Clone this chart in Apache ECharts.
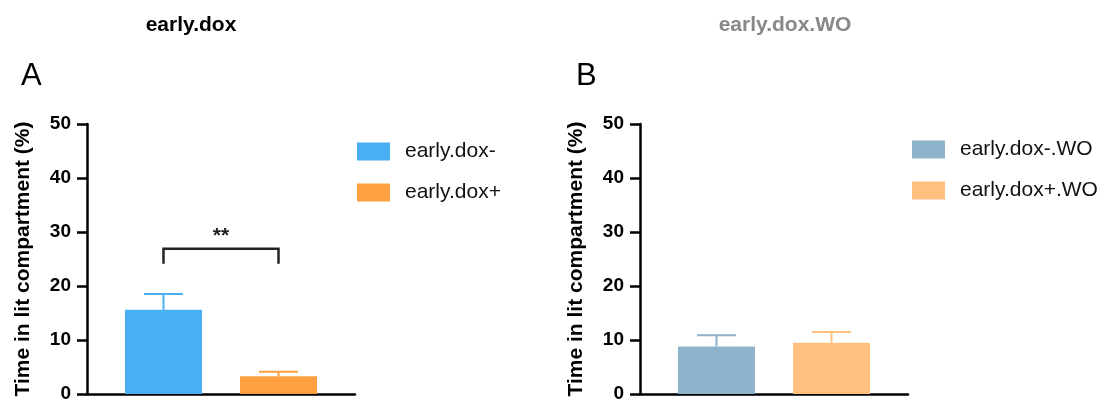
<!DOCTYPE html>
<html>
<head>
<meta charset="utf-8">
<script src="https://cdn.jsdelivr.net/npm/echarts@6/dist/echarts.min.js"></script>
<style>
html,body{margin:0;padding:0;background:#fff;}
#chart{width:1105px;height:404px;}
</style>
</head>
<body>
<div id="chart"></div>
<script>
// ---- data ----
const panelTitles = ['early.dox', 'early.dox.WO'];
const panelLetters = ['A', 'B'];
const groupsA = ['early.dox-', 'early.dox+'];
const meansA = [15.6, 3.3];
const errTopA = [18.5, 4.1];
const groupsB = ['early.dox-.WO', 'early.dox+.WO'];
const meansB = [8.8, 9.5];
const errTopB = [10.9, 11.5];
const colorsA = ['#4aaef3', '#ffa040'];
const colorsB = ['#8eb3cc', '#ffc080'];
// significance bracket in panel A: [fromGroup, toGroup, top value, leg bottom value]
const sigA = [[0, 1, 26.9, 24.1]];
const sigLabelA = ['**'];
const yMin = 0, yMax = 50, yInterval = 10;
const yTitle = 'Time in lit compartment (%)';

const FONT = "'Liberation Sans', Arial, Helvetica, sans-serif";
const chart = echarts.init(document.getElementById('chart'));

function yAxisOpt(gi) {
  return {
    type: 'value', gridIndex: gi, min: yMin, max: yMax, interval: yInterval,
    name: yTitle, nameLocation: 'middle', nameGap: 53,
    nameTextStyle: {fontFamily: FONT, fontWeight: 'bold', fontSize: 21, color: '#000'},
    axisLine: {show: true, onZero: false, lineStyle: {color: '#000', width: 2.5}},
    axisTick: {show: true, inside: false, length: 10, lineStyle: {color: '#000', width: 2.5}},
    axisLabel: {fontFamily: FONT, fontWeight: 'bold', fontSize: 19, color: '#000', margin: 16},
    splitLine: {show: false}
  };
}
function xAxisOpt(gi) {
  return {
    type: 'value', gridIndex: gi, min: 0.335, max: 2.665,
    axisLine: {show: true, onZero: false, lineStyle: {color: '#000', width: 2.5}},
    axisTick: {show: false}, axisLabel: {show: false}, splitLine: {show: false}
  };
}

const series = [];
function addPanel(gi, groups, means, errs, colors) {
  groups.forEach((g, i) => {
    series.push({
      name: g, type: 'bar', xAxisIndex: gi, yAxisIndex: gi,
      barWidth: 77, barGap: '-100%',
      itemStyle: {color: colors[i]},
      data: [[i + 1, means[i]]], z: 2
    });
    series.push({
      type: 'custom', xAxisIndex: gi, yAxisIndex: gi, z: 3, silent: true,
      data: [[i + 1, means[i], errs[i]]],
      renderItem: function (params, api) {
        const p0 = api.coord([api.value(0), api.value(1)]);
        const p1 = api.coord([api.value(0), api.value(2)]);
        const hw = 19.5;
        return {
          type: 'group', children: [
            {type: 'line', shape: {x1: p0[0], y1: p0[1], x2: p1[0], y2: p1[1]}, style: {stroke: colors[i], lineWidth: 2}},
            {type: 'line', shape: {x1: p1[0] - hw, y1: p1[1], x2: p1[0] + hw, y2: p1[1]}, style: {stroke: colors[i], lineWidth: 2}}
          ]
        };
      }
    });
  });
}
addPanel(0, groupsA, meansA, errTopA, colorsA);
addPanel(1, groupsB, meansB, errTopB, colorsB);

series.push({
  type: 'custom', xAxisIndex: 0, yAxisIndex: 0, z: 4, silent: true,
  data: sigA.map((s, k) => [s[0] + 1, s[1] + 1, s[2], s[3], k]),
  renderItem: function (params, api) {
    const a = api.coord([api.value(0), api.value(3)]);
    const b = api.coord([api.value(0), api.value(2)]);
    const c = api.coord([api.value(1), api.value(2)]);
    const d = api.coord([api.value(1), api.value(3)]);
    return {
      type: 'group', children: [
        {type: 'polyline', shape: {points: [a, b, c, d]}, style: {stroke: '#222', lineWidth: 2.5, fill: null}},
        {type: 'text', style: {text: sigLabelA[api.value(4)], x: (b[0] + c[0]) / 2, y: b[1] - 2,
          textAlign: 'center', textVerticalAlign: 'bottom', font: "bold 21px " + FONT, fill: '#222'}}
      ]
    };
  }
});

chart.setOption({
  backgroundColor: '#fff',
  animation: false,
  title: [
    {text: panelTitles[0], left: 191, top: 15, textAlign: 'center', padding: 0,
      textStyle: {fontFamily: FONT, fontWeight: 'bold', fontSize: 21, color: '#000'}},
    {text: panelTitles[1], left: 785, top: 15, textAlign: 'center', padding: 0,
      textStyle: {fontFamily: FONT, fontWeight: 'bold', fontSize: 21, color: '#888'}},
    {text: panelLetters[0], left: 21, top: 61, padding: 0,
      textStyle: {fontFamily: FONT, fontWeight: 'normal', fontSize: 31, color: '#000'}},
    {text: panelLetters[1], left: 576, top: 61, padding: 0,
      textStyle: {fontFamily: FONT, fontWeight: 'normal', fontSize: 31, color: '#000'}}
  ],
  legend: [
    {data: groupsA, orient: 'vertical', left: 357, top: 141, padding: 0, itemWidth: 33, itemHeight: 18, itemGap: 20,
      icon: 'rect', textStyle: {fontFamily: FONT, fontSize: 21, color: '#111', padding: [0, 0, 0, 10]}},
    {data: groupsB, orient: 'vertical', left: 912, top: 139, padding: 0, itemWidth: 33, itemHeight: 18, itemGap: 20,
      icon: 'rect', textStyle: {fontFamily: FONT, fontSize: 21, color: '#111', padding: [0, 0, 0, 10]}}
  ],
  grid: [
    {left: 87, top: 124, width: 268, height: 270},
    {left: 640, top: 124, width: 268, height: 270}
  ],
  xAxis: [xAxisOpt(0), xAxisOpt(1)],
  yAxis: [yAxisOpt(0), yAxisOpt(1)],
  series: series
});
</script>
</body>
</html>
